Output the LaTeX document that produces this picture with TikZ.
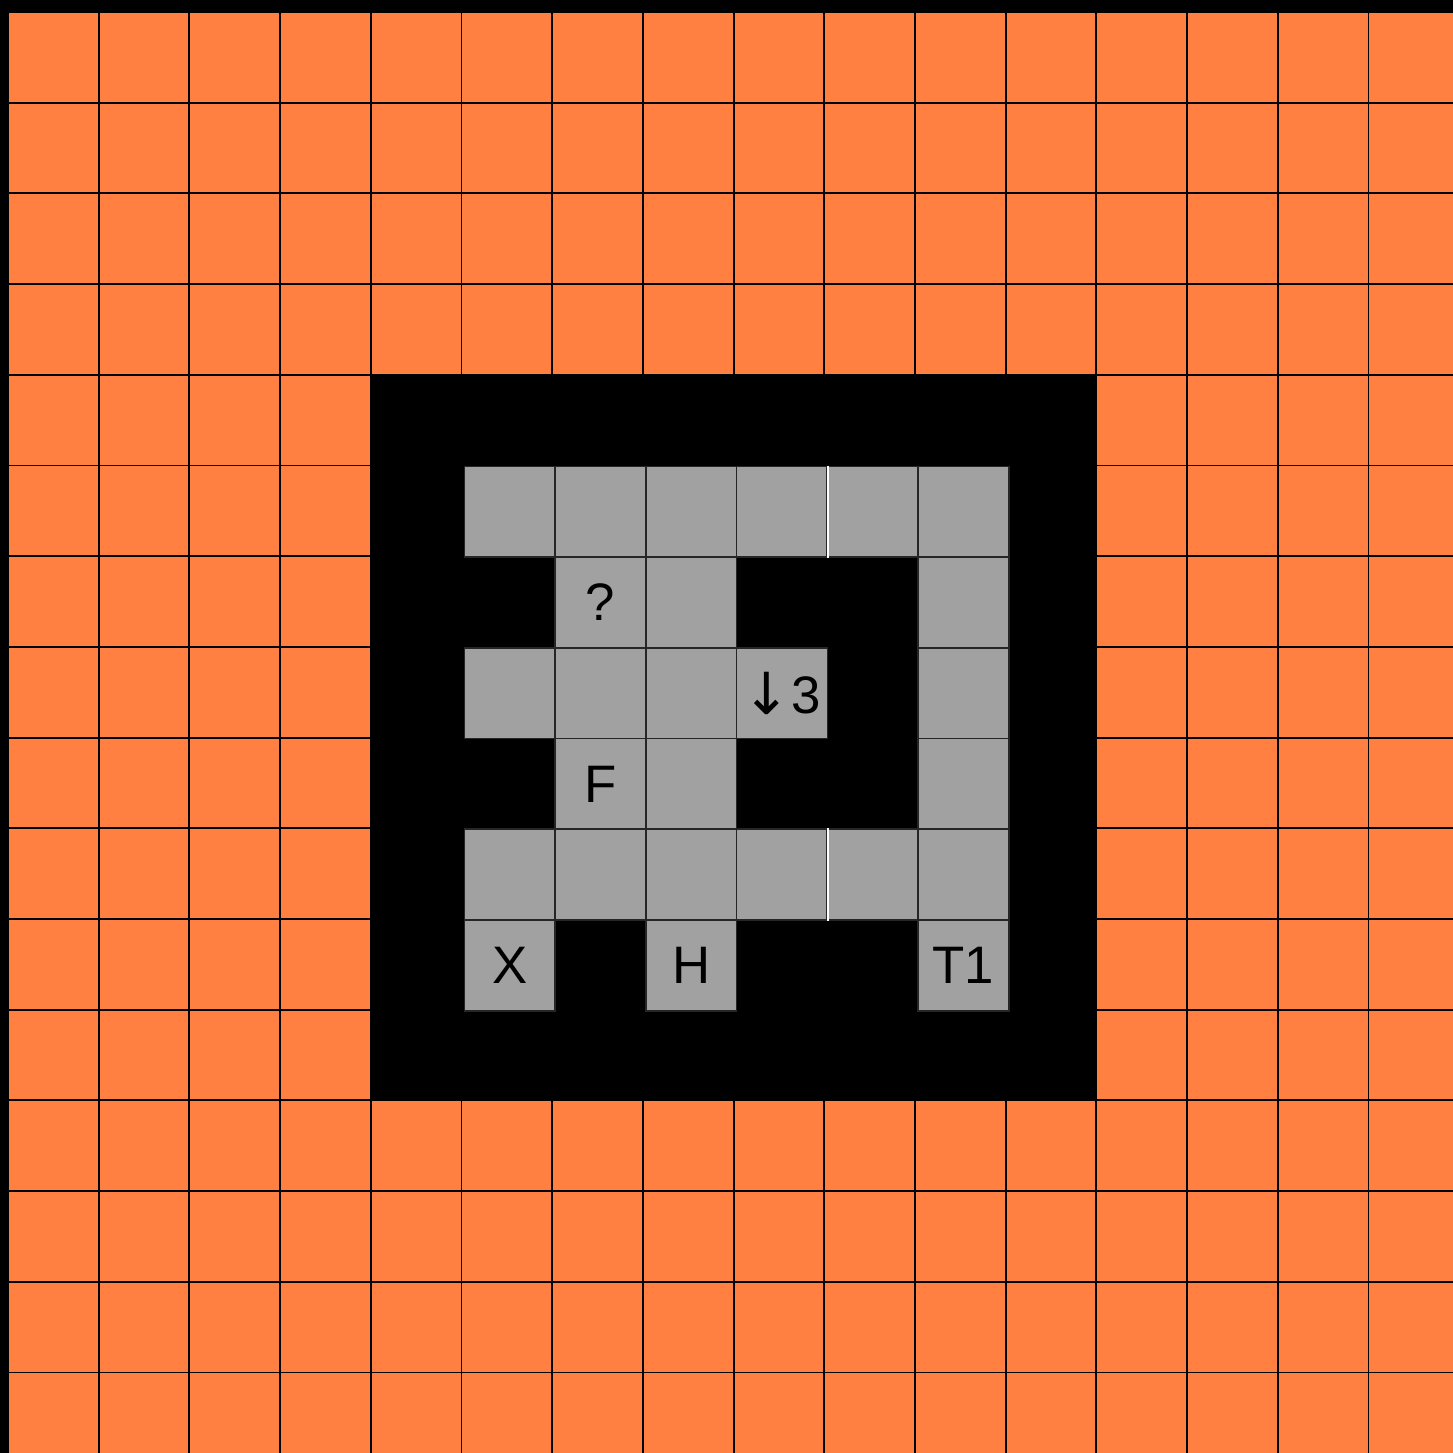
\documentclass[tikz,border=0pt]{standalone}
\usepackage{fontspec}
\setmainfont{Liberation Sans}
\newfontfamily\arrowfont{DejaVu Sans}
\definecolor{orng}{RGB}{255,128,64}
\definecolor{cellgrey}{RGB}{161,161,161}
\begin{document}
\begin{tikzpicture}[x=0.01cm,y=-0.01cm,
  gridline/.style={line width=0.55pt, draw=black},
  cell/.style={rectangle, draw=black!85, fill=cellgrey, line width=0.45pt,
    minimum size=0.907cm, inner sep=0pt, text=black,
    font=\fontsize{15}{18}\selectfont},
  divider/.style={draw=white, line width=0.4pt}]
\useasboundingbox (0,0) rectangle (1453,1453);
\fill[black] (0,0) rectangle (1453,1453);
\fill[orng] (8,12) rectangle (1453,1453);
\foreach \k in {0,...,15} {
  \draw[gridline] ({8+\k*90.7},12) -- ({8+\k*90.7},1453);
  \draw[gridline] (8,{12+\k*90.7}) -- (1453,{12+\k*90.7});
}
\fill[black] (370.8,374.8) rectangle (1096.4,1100.4);
\foreach \c/\r/\t in {5/5/{},6/5/{},7/5/{},8/5/{},9/5/{},10/5/{},
  6/6/{?},7/6/{},10/6/{},
  5/7/{},6/7/{},7/7/{},8/7/{\raisebox{-0.3pt}{\arrowfont\fontsize{16.5}{18}\selectfont ↓}3},10/7/{},
  6/8/{F},7/8/{},10/8/{},
  5/9/{},6/9/{},7/9/{},8/9/{},9/9/{},10/9/{},
  5/10/{X},7/10/{H},10/10/{T1}} {
  \node[cell] (c\c-\r) at ({8+(\c+0.5)*90.7+3},{12+(\r+0.5)*90.7+1}) {\t};
}
\draw[divider] (c8-5.north east) -- (c8-5.south east);
\draw[divider] (c8-9.north east) -- (c8-9.south east);
\end{tikzpicture}
\end{document}
